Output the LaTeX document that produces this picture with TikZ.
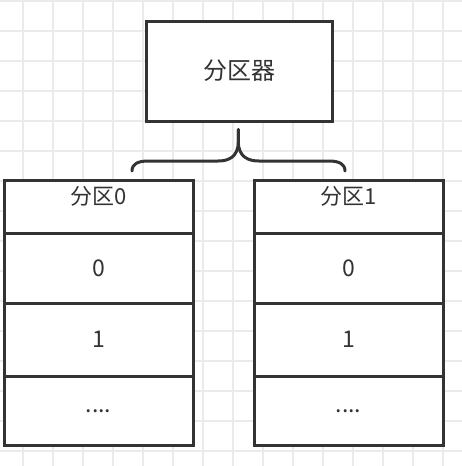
\documentclass[tikz,border=0pt]{standalone}
\usepackage{fontspec}
\setmainfont{Noto Sans CJK SC}
\definecolor{ink}{HTML}{333333}
\definecolor{gridc}{HTML}{EBEBEB}
\tikzset{
  cell/.style={draw=ink, line width=3pt, fill=white, inner sep=0pt, minimum width=189pt, text=ink, font=\fontsize{23}{26}\selectfont},
  hdrtext/.style={text=ink, inner sep=0pt, font=\fontsize{22}{25}\selectfont},
  bigbox/.style={draw=ink, line width=3pt, fill=white, inner sep=0pt, minimum width=186pt, minimum height=100pt, text=ink, font=\fontsize{24}{28}\selectfont},
  bracec/.style={draw=ink, line width=3pt, line cap=round}
}
\begin{document}
\begin{tikzpicture}[x=1pt,y=-1pt]
\useasboundingbox (0,0) rectangle (462,466);
\fill[white] (0,0) rectangle (462,466);
% grid
\foreach \gx in {23,53,...,443} \draw[gridc, line width=1.2pt] (\gx,0) -- (\gx,466);
\foreach \gy in {1,31,...,451} \draw[gridc, line width=1.2pt] (0,\gy) -- (462,\gy);
% partitioner
\node[bigbox] (part) at (239,71) {分区器};
% left column
\node[cell, minimum height=53pt] (h0) at (98.5,206.5) {};
\node[hdrtext] (t0) at ([yshift=-18pt]h0.north) {分区0};
\node[cell, minimum height=70.5pt] (a0) at (98.5,268.25) {0};
\node[cell, minimum height=72.5pt] (a1) at (98.5,339.75) {1};
\node[cell, minimum height=69.5pt] (a2) at (98.5,410.75) {....};
% right column
\node[cell, minimum height=53pt] (h1) at (348.5,206.5) {};
\node[hdrtext] (t1) at ([yshift=-18pt]h1.north) {分区1};
\node[cell, minimum height=70.5pt] (b0) at (348.5,268.25) {0};
\node[cell, minimum height=72.5pt] (b1) at (348.5,339.75) {1};
\node[cell, minimum height=69.5pt] (b2) at (348.5,410.75) {....};
% brace
\coordinate (tip) at ([xshift=-0.7pt,yshift=-7pt]part.south);
\coordinate (bl) at (132,171);
\coordinate (br) at (345,171);
\draw[bracec] (tip) -- ++(0,12) .. controls ++(0,16) and (228,161) .. (218,161)
  -- (148,161) .. controls (138,161) and (132,164) .. (bl);
\draw[bracec] (tip) -- ++(0,12) .. controls ++(0,16) and (249,161) .. (259,161)
  -- (329,161) .. controls (339,161) and (345,164) .. (br);
\end{tikzpicture}
\end{document}
